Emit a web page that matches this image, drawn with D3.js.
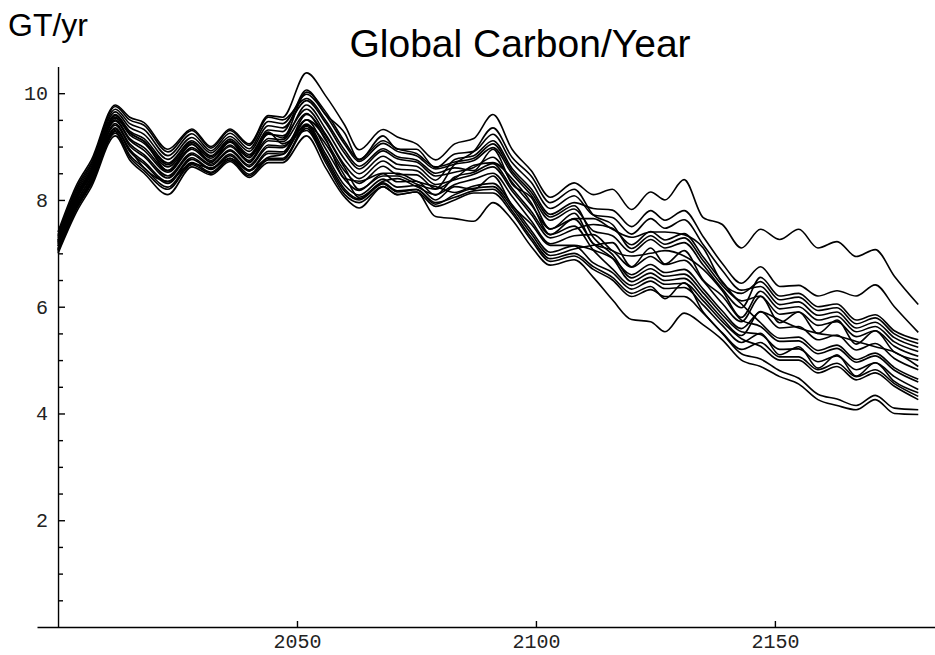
<!DOCTYPE html>
<html>
<head>
<meta charset="utf-8">
<script src="https://cdn.jsdelivr.net/npm/d3@7"></script>
<style>
  body { margin: 0; background: #fff; }
  .tick text { font-family: "Liberation Mono", "Courier New", monospace; font-size: 20px; fill: #222; }
  .axis path, .axis line { stroke: #000; stroke-width: 1.4px; }
  .run { fill: none; stroke: #000; stroke-width: 1.6px; stroke-linejoin: round; }
</style>
</head>
<body>
<div id="chart"></div>
<script>
// key years (turning points shared by the runs)
var years = [2000, 2004, 2007, 2012, 2015, 2018, 2023, 2028, 2032, 2036, 2040, 2044, 2047,
    2052, 2056, 2060, 2063, 2068, 2071, 2075, 2079,
    2083, 2087, 2091, 2095, 2099, 2103, 2108,
    2112, 2116, 2120, 2124, 2127, 2131, 2135, 2139, 2143,
    2147, 2151, 2155, 2159, 2163, 2167, 2171, 2175, 2180];

// GT/yr for each model run
var runA = [7.40, 8.30, 8.75, 9.78, 9.55, 9.45, 8.95, 9.33, 9.00, 9.33, 9.05, 9.58, 9.55,
    10.38, 9.95, 9.40, 8.94, 9.32, 9.18, 9.05, 8.75,
    9.05, 9.15, 9.60, 8.95, 8.55, 8.05, 8.32,
    8.10, 8.20, 7.82, 8.15, 8.00, 8.38, 7.67, 7.54, 7.10,
    7.45, 7.26, 7.45, 7.10, 7.22, 6.94, 7.07, 6.57, 6.04];
var runB = [7.19, 8.05, 8.50, 9.50, 9.15, 8.98, 8.55, 8.98, 8.74, 9.03, 8.74, 9.15, 9.13,
    9.78, 9.33, 8.76, 8.49, 8.82, 8.67, 8.63, 8.37,
    8.76, 8.83, 9.11, 8.59, 8.21, 7.73, 7.95,
    7.84, 7.81, 7.50, 7.80, 7.62, 7.80, 7.31, 6.81, 6.44,
    6.75, 6.38, 6.40, 6.20, 6.30, 6.20, 6.41, 6.00, 5.52];
var runC = [7.32, 8.21, 8.66, 9.70, 9.43, 9.32, 8.83, 9.24, 8.92, 9.25, 8.96, 9.47, 9.43,
    9.98, 9.59, 9.04, 8.72, 9.06, 8.91, 8.83, 8.58,
    8.67, 8.74, 8.98, 8.49, 8.09, 7.62, 7.83,
    7.42, 7.33, 7.02, 7.26, 7.10, 7.20, 6.78, 6.33, 5.98,
    6.55, 6.20, 6.25, 6.00, 6.05, 5.75, 5.85, 5.55, 5.38];
var runD = [7.09, 7.93, 8.38, 9.35, 8.94, 8.72, 8.34, 8.79, 8.59, 8.86, 8.56, 8.91, 8.90,
    9.60, 9.20, 8.60, 8.20, 8.45, 8.45, 8.30, 8.20,
    8.40, 8.65, 8.70, 8.40, 7.95, 7.35, 7.65,
    7.65, 7.45, 7.30, 7.40, 7.40, 7.35, 7.10, 6.45, 6.25,
    6.47, 6.13, 6.18, 5.93, 5.98, 5.68, 5.79, 5.49, 5.31];
var runE = [7.25, 8.13, 8.58, 9.60, 9.29, 9.15, 8.69, 9.11, 8.83, 9.14, 8.85, 9.31, 9.28,
    10.06, 9.60, 9.25, 8.75, 9.20, 8.95, 8.95, 8.60,
    8.86, 8.91, 9.23, 8.70, 8.33, 7.84, 8.08,
    7.72, 7.67, 7.36, 7.65, 7.47, 7.63, 7.16, 6.68, 6.31,
    6.38, 6.04, 6.09, 5.84, 5.90, 5.60, 5.71, 5.42, 5.24];
var runF = [7.14, 7.99, 8.44, 9.43, 9.05, 8.85, 8.45, 8.88, 8.67, 8.94, 8.65, 9.03, 9.01,
    9.40, 9.05, 8.45, 8.05, 8.35, 8.40, 8.25, 8.10,
    8.29, 8.39, 8.50, 8.07, 7.61, 7.18, 7.33,
    7.35, 7.05, 6.95, 7.00, 7.05, 6.95, 6.70, 6.30, 5.80,
    6.29, 5.96, 6.00, 5.75, 5.82, 5.53, 5.63, 5.34, 5.16];
var runG = [7.35, 8.25, 8.70, 9.75, 9.50, 9.40, 8.90, 9.30, 8.97, 9.30, 9.02, 9.55, 9.50,
    9.90, 9.49, 8.93, 8.63, 8.96, 8.81, 8.75, 8.50,
    8.60, 8.55, 8.95, 8.30, 8.05, 7.45, 7.75,
    7.18, 7.05, 6.74, 6.94, 6.79, 6.87, 6.48, 6.06, 5.72,
    6.19, 5.86, 5.90, 5.65, 5.72, 5.44, 5.55, 5.26, 5.07];
var runH = [7.22, 8.09, 8.54, 9.55, 9.22, 9.06, 8.62, 9.04, 8.78, 9.08, 8.79, 9.23, 9.20,
    9.70, 9.23, 8.65, 8.40, 8.73, 8.58, 8.55, 8.29,
    8.38, 8.48, 8.62, 8.17, 7.73, 7.29, 7.45,
    7.54, 7.47, 7.16, 7.41, 7.25, 7.37, 6.93, 6.47, 6.11,
    6.20, 5.70, 5.90, 5.50, 5.75, 5.30, 5.55, 5.15, 5.00];
var runI = [7.06, 7.89, 8.34, 9.30, 8.95, 8.60, 8.35, 8.68, 8.60, 8.78, 8.55, 8.80, 8.85,
    9.42, 8.86, 8.27, 8.09, 8.39, 8.24, 8.27, 8.00,
    8.25, 8.20, 8.45, 7.90, 7.55, 7.15, 7.15,
    7.06, 6.91, 6.60, 6.79, 6.64, 6.70, 6.33, 5.92, 5.59,
    5.90, 5.75, 5.60, 5.50, 5.45, 5.35, 5.25, 5.15, 4.88];
var runJ = [7.29, 8.17, 8.62, 9.65, 9.36, 9.23, 8.76, 9.17, 8.88, 9.19, 8.91, 9.39, 9.35,
    9.86, 9.44, 8.87, 8.58, 8.92, 8.77, 8.71, 8.45,
    8.52, 8.61, 8.80, 8.33, 7.91, 7.46, 7.64,
    7.18, 6.91, 6.47, 6.63, 6.49, 6.53, 6.18, 5.78, 5.46,
    5.91, 5.60, 5.63, 5.38, 5.47, 5.19, 5.31, 5.03, 4.82];
var runK = [7.17, 8.03, 8.48, 9.48, 9.12, 8.93, 8.52, 8.95, 8.71, 9.00, 8.71, 9.11, 9.09,
    9.62, 9.12, 8.54, 8.31, 8.63, 8.48, 8.47, 8.21,
    8.67, 8.91, 9.35, 8.80, 8.45, 7.95, 8.20,
    7.72, 7.54, 7.09, 7.33, 7.17, 7.29, 6.86, 6.40, 6.05,
    5.70, 5.41, 5.43, 5.18, 5.28, 5.01, 5.13, 4.86, 4.64];
var runL = [7.03, 7.85, 8.30, 9.25, 8.80, 8.55, 8.20, 8.66, 8.50, 8.75, 8.45, 8.75, 8.75,
    9.34, 8.75, 8.16, 8.00, 8.30, 8.15, 8.19, 7.92,
    8.10, 8.22, 8.25, 7.86, 7.37, 6.96, 7.08,
    7.15, 7.20, 6.75, 7.10, 6.80, 7.05, 6.50, 6.20, 5.75,
    5.63, 5.35, 5.36, 5.12, 5.22, 4.96, 5.08, 4.81, 4.59];
var runM = [7.21, 8.07, 8.52, 9.53, 9.25, 9.10, 8.55, 9.05, 8.70, 9.10, 8.70, 9.25, 9.16,
    10.02, 9.65, 9.09, 8.76, 9.11, 8.96, 8.87, 8.62,
    8.71, 8.78, 9.05, 8.54, 8.15, 7.68, 7.89,
    7.30, 6.98, 6.54, 6.71, 6.57, 6.61, 6.26, 5.85, 5.53,
    5.48, 5.20, 5.21, 4.97, 5.08, 4.82, 4.95, 4.69, 4.45];
var runN = [7.13, 7.97, 8.42, 9.40, 9.01, 8.81, 8.41, 8.85, 8.64, 8.92, 8.62, 8.99, 8.98,
    9.50, 9.15, 8.40, 8.35, 8.50, 8.50, 8.35, 8.25,
    8.14, 8.26, 8.31, 7.91, 7.43, 7.02, 7.14,
    6.82, 6.64, 6.33, 6.48, 6.34, 6.36, 6.03, 5.65, 5.33,
    5.50, 5.10, 5.25, 4.85, 5.10, 4.70, 4.95, 4.60, 4.39];
var runO = [7.24, 8.11, 8.56, 9.58, 9.26, 9.10, 8.66, 9.08, 8.81, 9.11, 8.82, 9.27, 9.05,
    9.30, 8.70, 8.10, 7.95, 8.25, 8.10, 8.15, 7.88,
    8.00, 8.13, 8.13, 7.75, 7.25, 6.85, 6.95,
    6.70, 6.50, 6.19, 6.32, 6.19, 6.19, 5.88, 5.51, 5.20,
    5.33, 5.06, 5.06, 4.82, 4.94, 4.69, 4.82, 4.56, 4.32];
var runP = [7.08, 7.91, 8.36, 9.33, 8.91, 8.68, 8.31, 8.76, 8.57, 8.83, 8.54, 8.87, 8.86,
    9.50, 8.96, 8.38, 8.18, 8.49, 8.34, 8.35, 8.09,
    8.43, 8.52, 8.68, 8.22, 7.79, 7.35, 7.51,
    7.06, 6.71, 6.40, 6.55, 6.42, 6.44, 6.11, 5.72, 5.40,
    5.26, 5.00, 5.00, 4.76, 4.88, 4.63, 4.76, 4.51, 4.26];
var runR = [7.00, 7.80, 8.25, 9.20, 8.75, 8.50, 8.10, 8.62, 8.47, 8.72, 8.42, 8.70, 8.70,
    9.20, 8.60, 8.05, 7.85, 8.25, 8.10, 8.15, 7.69,
    7.65, 7.60, 7.95, 7.63, 7.13, 6.78, 6.88,
    6.55, 6.13, 5.76, 5.72, 5.53, 5.88, 5.66, 5.38, 5.00,
    4.88, 4.69, 4.55, 4.26, 4.15, 4.07, 4.26, 4.00, 3.98];
var runS = [7.05, 7.87, 8.32, 9.28, 8.84, 8.60, 8.24, 8.70, 8.52, 8.78, 8.48, 8.78, 8.78,
    9.38, 8.80, 8.20, 8.02, 8.32, 8.17, 8.20, 7.95,
    8.05, 8.17, 8.20, 7.80, 7.30, 6.90, 7.00,
    6.75, 6.55, 6.25, 6.38, 6.15, 6.45, 5.90, 5.50, 5.12,
    5.02, 4.80, 4.66, 4.36, 4.27, 4.15, 4.34, 4.10, 4.07];

var runs = [runA, runB, runC, runD, runE, runF, runG, runH, runI,
    runJ, runK, runL, runM, runN, runO, runP, runR, runS];

var xTickValues = [2050, 2100, 2150];
var yTickValues = [2, 4, 6, 8, 10];
var yMinorValues = [0.5, 1, 1.5, 2.5, 3, 3.5, 4.5, 5, 5.5, 6.5, 7, 7.5, 8.5, 9, 9.5];

var width = 935;
var height = 655;

var x = d3.scaleLinear().domain([1995.6, 2183.5]).range([37, 935]);
var y = d3.scaleLinear().domain([0, 10.5]).range([627, 66.5]);

var svg = d3.select("#chart")
    .append("svg")
    .attr("width", width)
    .attr("height", height);

svg.append("text")
    .attr("x", 8)
    .attr("y", 36)
    .attr("font-family", "Liberation Sans, Arial, sans-serif")
    .attr("font-size", 32)
    .text("GT/yr");

svg.append("text")
    .attr("x", 520)
    .attr("y", 57)
    .attr("text-anchor", "middle")
    .attr("font-family", "Liberation Sans, Arial, sans-serif")
    .attr("font-size", 39)
    .text("Global Carbon/Year");

// axes
svg.append("g")
    .attr("class", "axis")
    .attr("transform", "translate(0," + y(0) + ")")
    .call(d3.axisBottom(x)
        .tickValues(xTickValues)
        .tickSize(-6)
        .tickSizeOuter(0)
        .tickPadding(7)
        .tickFormat(d3.format("d")));

svg.append("g")
    .attr("class", "axis")
    .attr("transform", "translate(" + x(2000) + ",0)")
    .call(d3.axisLeft(y)
        .tickValues(yTickValues)
        .tickSize(-7)
        .tickSizeOuter(0)
        .tickPadding(10));

svg.append("g")
    .attr("class", "axis")
    .attr("transform", "translate(" + x(2000) + ",0)")
    .call(d3.axisLeft(y)
        .tickValues(yMinorValues)
        .tickSize(-5)
        .tickFormat(""))
    .select(".domain").remove();

svg.selectAll(".axis text").attr("font-family", null).attr("font-size", null);

// runs
var line = d3.line()
    .x(function (d, i) { return x(years[i]); })
    .y(function (d) { return y(d); })
    .curve(d3.curveMonotoneX);

svg.append("g")
    .selectAll("path")
    .data(runs)
    .enter()
    .append("path")
    .attr("class", "run")
    .attr("d", line);
</script>
</body>
</html>
